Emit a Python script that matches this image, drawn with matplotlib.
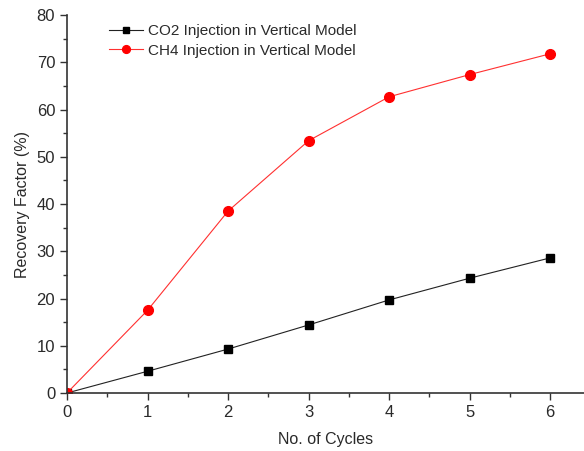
import matplotlib
matplotlib.use("Agg")
import matplotlib.pyplot as plt
from matplotlib.ticker import MultipleLocator

plt.rcParams['font.family'] = ['Liberation Sans', 'DejaVu Sans']

cycles = [0, 1, 2, 3, 4, 5, 6]
co2 = [0, 4.6, 9.3, 14.4, 19.7, 24.3, 28.6]
ch4 = [0, 17.5, 38.5, 53.4, 62.7, 67.4, 71.8]
labels = ["CO2 Injection in Vertical Model", "CH4 Injection in Vertical Model"]

txt = '#2a2a2a'
fig = plt.figure(figsize=(5.84, 4.51), dpi=100)
ax = fig.add_axes([0.1147, 0.1286, 0.8853, 0.838])

ax.plot(cycles, co2, color='#222222', lw=0.8, marker='s', ms=6, mfc='black', mec='black',
        label=labels[0])
ax.plot(cycles, ch4, color='#ff3030', lw=0.8, marker='o', ms=7,
        mfc='red', mec='red', label=labels[1])

ax.set_xlim(0, 6.42)
ax.set_ylim(0, 80)
ax.xaxis.set_major_locator(MultipleLocator(1))
ax.xaxis.set_minor_locator(MultipleLocator(0.5))
ax.yaxis.set_major_locator(MultipleLocator(10))
ax.yaxis.set_minor_locator(MultipleLocator(5))
ax.tick_params(which='both', direction='out', width=1.0, labelsize=12,
               colors='#333333', labelcolor=txt)
ax.tick_params(which='major', length=5)
ax.tick_params(which='minor', length=3)
ax.spines['top'].set_visible(False)
ax.spines['right'].set_visible(False)
for s in ('left', 'bottom'):
    ax.spines[s].set_linewidth(1.2)
    ax.spines[s].set_color('#333333')

ax.set_xlabel("No. of Cycles", fontsize=11.5, labelpad=9, color=txt)
ax.set_ylabel("Recovery Factor (%)", fontsize=11.5, labelpad=5, color=txt)

leg = ax.legend(loc='upper left', bbox_to_anchor=(0.055, 1.012), frameon=False,
                fontsize=11, handlelength=2.2, labelspacing=0.35, handletextpad=0.35,
                markerscale=0.8)
for t in leg.get_texts():
    t.set_color(txt)

fig.savefig("out.png", dpi=100)
